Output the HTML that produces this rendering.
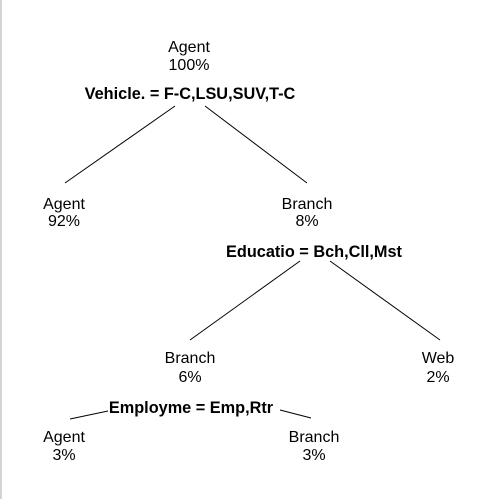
<!DOCTYPE html>
<html><head><style>
html,body{margin:0;padding:0;background:#fff;}
svg{display:block;}
text{font-family:"Liberation Sans",Arial,sans-serif;font-size:16px;fill:#000;text-anchor:middle;}
.b{font-weight:bold;font-size:16.3px;}
</style></head><body>
<svg width="490" height="499" viewBox="0 0 490 499">
<rect x="0" y="0" width="2" height="499" fill="#d4d4d4"/>
<g stroke="#000" stroke-width="1">
<line x1="175" y1="106" x2="65" y2="183"/>
<line x1="205" y1="106" x2="307" y2="183"/>
<line x1="300" y1="261" x2="190" y2="340"/>
<line x1="330" y1="261" x2="440" y2="340"/>
<line x1="70" y1="419" x2="108" y2="411"/>
<line x1="280" y1="410" x2="311" y2="418"/>
</g>
<text x="189" y="52">Agent</text>
<text x="189" y="70">100%</text>
<text x="190" y="99" class="b">Vehicle. = F-C,LSU,SUV,T-C</text>
<text x="64" y="209">Agent</text>
<text x="64" y="226">92%</text>
<text x="307" y="209">Branch</text>
<text x="307" y="226">8%</text>
<text x="314" y="257" class="b">Educatio = Bch,Cll,Mst</text>
<text x="190" y="363">Branch</text>
<text x="190" y="382">6%</text>
<text x="438" y="363">Web</text>
<text x="438" y="382">2%</text>
<text x="191" y="413" class="b">Employme = Emp,Rtr</text>
<text x="64" y="442">Agent</text>
<text x="64" y="460">3%</text>
<text x="314" y="442">Branch</text>
<text x="314" y="460">3%</text>
</svg>
</body></html>
